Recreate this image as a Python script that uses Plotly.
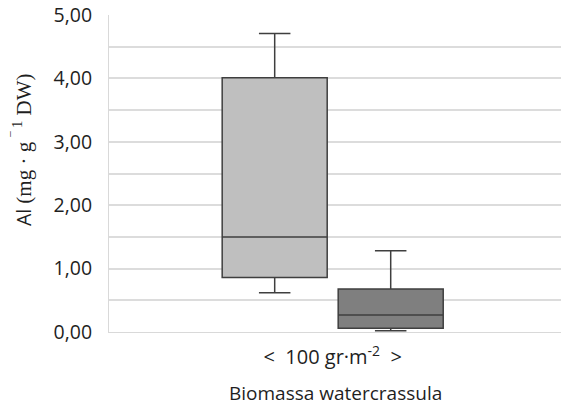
import plotly.graph_objects as go

# Aluminium content (mg/g DW) per biomass group, summarised as box statistics
category = ["<  100 gr·m<sup>-2</sup>  >"]
series_names = ["Grupo A", "Grupo B"]
lower_fence = [0.62, 0.02]
q1 = [0.86, 0.06]
median = [1.50, 0.27]
q3 = [4.01, 0.68]
upper_fence = [4.71, 1.28]
fill_colors = ["#bfbfbf", "#7f7f7f"]

y_ticks = [0, 1, 2, 3, 4, 5]
y_tick_text = ["0,00", "1,00", "2,00", "3,00", "4,00", "5,00"]

fig = go.Figure()
for i, name in enumerate(series_names):
    fig.add_trace(go.Box(
        name=name,
        x=category,
        q1=[q1[i]],
        median=[median[i]],
        q3=[q3[i]],
        lowerfence=[lower_fence[i]],
        upperfence=[upper_fence[i]],
        fillcolor=fill_colors[i],
        line=dict(color="#3f3f3f", width=1.5),
        whiskerwidth=0.3,
        boxpoints=False,
        hoverinfo="skip",
    ))

font_main = "Open Sans, Liberation Sans, sans-serif"

fig.update_layout(
    width=561,
    height=407,
    margin=dict(l=109, r=0, t=15, b=75),
    paper_bgcolor="white",
    plot_bgcolor="white",
    showlegend=False,
    boxmode="group",
    boxgap=0.4867,
    boxgroupgap=0.0947,
    font=dict(family=font_main, size=19, color="#1f1f1f"),
    xaxis=dict(
        type="category",
        range=[-0.4949, 0.5051],
        showgrid=False,
        zeroline=False,
        showline=True,
        linecolor="#d9d9d9",
        linewidth=1,
        ticks="",
        ticklabelstandoff=7,
        tickfont=dict(size=20),
    ),
    yaxis=dict(
        range=[0, 5],
        tickvals=y_ticks,
        ticktext=y_tick_text,
        showgrid=True,
        gridcolor="#dcdcdc",
        gridwidth=1.5,
        minor=dict(dtick=0.5, showgrid=True, gridcolor="#dcdcdc", gridwidth=1.5),
        zeroline=False,
        showline=True,
        linecolor="#d9d9d9",
        linewidth=1,
        ticks="",
        ticklabelstandoff=12,
        tickfont=dict(size=19.5),
    ),
    annotations=[
        dict(
            text="Biomassa watercrassula",
            xref="paper", yref="paper",
            x=(335 - 109) / 452, y=-(393 - 332) / 317,
            xanchor="center", yanchor="middle",
            borderpad=0,
            showarrow=False,
            font=dict(size=19),
        ),
        dict(
            text="Al <span style='font-family:Liberation Serif;font-size:21px'>(mg · g <sup>‾ 1</sup> DW)</span>",
            xref="paper", yref="paper",
            x=-(109 - 23) / 452, y=(332 - 150) / 317,
            xanchor="center", yanchor="middle",
            textangle=-90,
            showarrow=False,
            font=dict(size=19.5),
        ),
    ],
)

fig.write_html("out.html")
